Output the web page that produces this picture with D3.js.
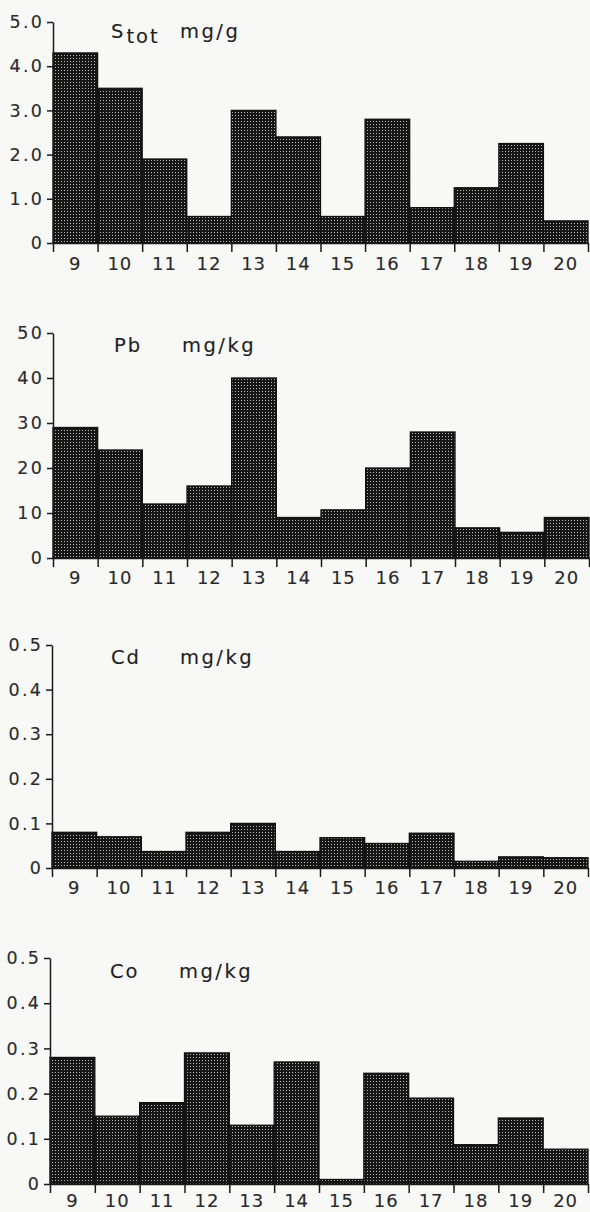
<!DOCTYPE html>
<html>
<head>
<meta charset="utf-8">
<script src="https://cdn.jsdelivr.net/npm/d3@7"></script>
<style>
  html, body { margin: 0; padding: 0; background: #f8f8f7; }
  svg { display: block; font-family: "DejaVu Sans", Arial, sans-serif; }
</style>
</head>
<body>
<div id="chart"></div>
<script>
// sample numbers along the x axis
const sites = ['9', '10', '11', '12', '13', '14', '15', '16', '17', '18', '19', '20'];

const sTot = [4.3, 3.5, 1.9, 0.6, 3.0, 2.4, 0.6, 2.8, 0.8, 1.25, 2.25, 0.5];
const pb   = [29, 24, 12, 16, 40, 9, 10.7, 20, 28, 6.7, 5.7, 9];
const cd   = [0.08, 0.07, 0.037, 0.08, 0.1, 0.037, 0.068, 0.055, 0.078, 0.015, 0.025, 0.023];
const co   = [0.28, 0.15, 0.18, 0.29, 0.13, 0.27, 0.01, 0.245, 0.19, 0.087, 0.146, 0.077];

const sTicks  = [0, 1, 2, 3, 4, 5];
const pbTicks = [0, 10, 20, 30, 40, 50];
const smallTicks = [0, 0.1, 0.2, 0.3, 0.4, 0.5];

const W = 590, H = 1212;
const FONT = '"DejaVu Sans", Arial, sans-serif';

const svg = d3.select('#chart').append('svg')
  .attr('width', W)
  .attr('height', H);

// dotted screen fill
let pat = svg.append('defs').append('pattern')
  .attr('id', 'screen')
  .attr('width', 3)
  .attr('height', 3)
  .attr('patternUnits', 'userSpaceOnUse');
pat.append('rect').attr('width', 3).attr('height', 3).attr('fill', '#161616');
pat.append('rect').attr('x', 1).attr('y', 1).attr('width', 1).attr('height', 1).attr('fill', '#b8b8b8');

let fmt1 = d => d === 0 ? '0' : d3.format('.1f')(d);

// one entry per panel: layout in pixels
let panels = [
  {name: 'S', sub: 'tot', unit: 'mg/g', values: sTot, ticks: sTicks, max: 5, fmt: fmt1,
   top: 22, base: 243, x0: 53, x1: 588, pad: 14, tx: 111, ux: 180, tdy: 16},
  {name: 'Pb', sub: null, unit: 'mg/kg', values: pb, ticks: pbTicks, max: 50, fmt: d => String(d),
   top: 333, base: 558, x0: 53, x1: 589, pad: 13, tx: 114, ux: 182, tdy: 19},
  {name: 'Cd', sub: null, unit: 'mg/kg', values: cd, ticks: smallTicks, max: 0.5, fmt: fmt1,
   top: 645, base: 868, x0: 52, x1: 588, pad: 13, tx: 111, ux: 180, tdy: 19},
  {name: 'Co', sub: null, unit: 'mg/kg', values: co, ticks: smallTicks, max: 0.5, fmt: fmt1,
   top: 958, base: 1184, x0: 50, x1: 588, pad: 10, tx: 110, ux: 179, tdy: 20}
];

for (let p of panels) {
  let g = svg.append('g');

  let sx = d3.scaleBand().domain(sites).range([p.x0, p.x1]).padding(0);
  let sEdge = d3.scaleLinear().domain([0, sites.length]).range([p.x0, p.x1]);
  let sy = d3.scaleLinear().domain([0, p.max]).range([p.base, p.top]);

  // bars
  g.append('g').selectAll('rect')
    .data(p.values)
    .join('rect')
      .attr('x', (d, i) => sx(sites[i]))
      .attr('y', d => sy(d))
      .attr('width', sx.bandwidth())
      .attr('height', d => sy(0) - sy(d))
      .attr('fill', 'url(#screen)')
      .attr('stroke', '#111')
      .attr('stroke-width', 1.3);

  // y axis
  let ya = g.append('g')
    .attr('transform', `translate(${p.x0},0)`)
    .call(d3.axisLeft(sy).tickValues(p.ticks).tickFormat(p.fmt).tickSize(6).tickSizeOuter(0).tickPadding(3));
  ya.select('.domain').attr('stroke', '#1a1a1a').attr('stroke-width', 1.5);
  ya.selectAll('.tick line').attr('stroke', '#1a1a1a').attr('stroke-width', 1.5);
  ya.selectAll('.tick text').attr('fill', '#2a2a2a')
    .attr('stroke', '#2a2a2a').attr('stroke-width', 0.12)
    .style('font-size', '17.5px').style('letter-spacing', '2.2px')
    .style('font-family', FONT);

  // x axis: ticks at the band edges
  let xe = g.append('g')
    .attr('transform', `translate(0,${p.base})`)
    .call(d3.axisBottom(sEdge).tickValues(d3.range(sites.length + 1)).tickFormat('').tickSize(9).tickSizeOuter(0));
  xe.select('.domain').attr('stroke', '#1a1a1a').attr('stroke-width', 1.5);
  xe.selectAll('.tick line').attr('stroke', '#1a1a1a').attr('stroke-width', 1.5);

  // x labels centred in the bands
  let xl = g.append('g')
    .attr('transform', `translate(0,${p.base})`)
    .call(d3.axisBottom(sx).tickSize(0).tickPadding(p.pad));
  xl.select('.domain').remove();
  xl.selectAll('.tick text').attr('fill', '#2a2a2a')
    .attr('stroke', '#2a2a2a').attr('stroke-width', 0.12)
    .style('font-size', '18px').style('letter-spacing', '1px')
    .style('font-family', FONT);

  // title
  let t = g.append('text')
    .attr('x', p.tx)
    .attr('y', p.top + p.tdy)
    .attr('fill', '#1e1e1e')
    .attr('stroke', '#1e1e1e').attr('stroke-width', 0.12)
    .style('font-size', '19.5px')
    .style('letter-spacing', '2px');
  t.append('tspan').text(p.name);
  if (p.sub) {
    t.append('tspan').attr('dy', 5).attr('dx', 1).text(p.sub);
  }
  g.append('text')
    .attr('x', p.ux)
    .attr('y', p.top + p.tdy)
    .attr('fill', '#1e1e1e')
    .attr('stroke', '#1e1e1e').attr('stroke-width', 0.12)
    .style('font-size', '19.5px')
    .style('letter-spacing', '2.5px')
    .text(p.unit);
}
</script>
</body>
</html>
